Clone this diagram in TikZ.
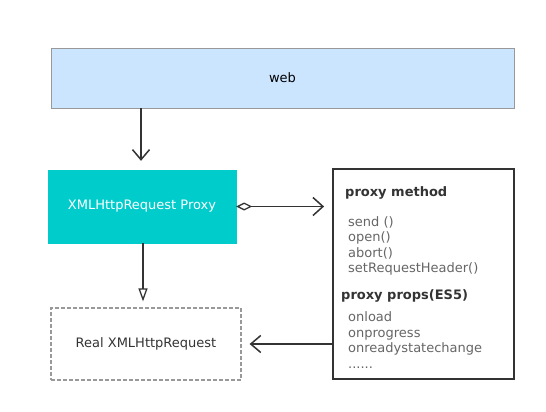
\documentclass[tikz,border=0pt]{standalone}
\usepackage{fontspec}
\setmainfont{DejaVu Sans}
\usetikzlibrary{arrows.meta}
\definecolor{webblue}{HTML}{CCE5FF}
\definecolor{webline}{HTML}{999999}
\definecolor{proxyteal}{HTML}{00CCCC}
\definecolor{ink}{HTML}{333333}
\definecolor{itemgray}{HTML}{666666}
\begin{document}
\begin{tikzpicture}[x=1pt,y=-1pt,font=\fontsize{13}{15}\selectfont,
   box/.style={draw,minimum width=#1,inner sep=0pt},
   link/.style={draw=ink,line width=1.5pt},
   vee/.style={-{Straight Barb[length=10pt,width=17pt,line width=1.5pt]}},
   item/.style={anchor=base west,text=itemgray,inner sep=0pt},
   head/.style={anchor=base west,text=ink,font=\fontsize{13}{15}\selectfont\bfseries,inner sep=0pt}]
   \useasboundingbox[fill=white] (0,0) rectangle (546,412);
   % boxes
   \node[box=463pt,minimum height=60pt,fill=webblue,draw=webline] (web) at (282.5,78) {web};
   \node[box=188pt,minimum height=73pt,fill=proxyteal,draw=proxyteal,text=white] (proxy) at (142,206.5) {XMLHttpRequest Proxy};
   \node[box=181pt,minimum height=210pt,draw=ink,line width=1.8pt] (method) at (423.5,274) {};
   \node[box=190pt,minimum height=72pt,draw=webline,dash pattern=on 4pt off 2pt,line width=1.2pt,text=ink] (real) at (146,344) {Real XMLHttpRequest};
   % texts in the right box
   \node[head] (mhead) at (345,196) {proxy method};
   \node[item] at (348,226) {send ()};
   \node[item] at (348,241.5) {open()};
   \node[item] at (348,257) {abort()};
   \node[item] at (348,272.5) {setRequestHeader()};
   \node[head] (phead) at (341,299.5) {proxy props(ES5)};
   \node[item] at (348,321.5) {onload};
   \node[item] at (348,337) {onprogress};
   \node[item] at (348,352.5) {onreadystatechange};
   \node[item] at (348,368) {......};
   % connectors
   \draw[link,vee,shorten >=9pt] (web.south -| proxy.north) ++(-1,0) coordinate (w1) -- (w1 |- proxy.north);
   \draw[link,{Diamond[open,length=16pt,width=8pt,line width=1.3pt]}-{Straight Barb[length=10pt,width=18pt,line width=1.5pt]},shorten >=8pt] (proxy.east) -- (proxy.east -| method.west);
   \draw[link,-{Triangle[open,length=13pt,width=9pt,line width=1.3pt]},shorten >=6pt] (proxy.south) ++(1,0) coordinate (p1) -- (p1 |- real.north);
   \draw[link,vee,shorten >=8pt] (method.west |- real.east) -- (real.east);
\end{tikzpicture}
\end{document}
